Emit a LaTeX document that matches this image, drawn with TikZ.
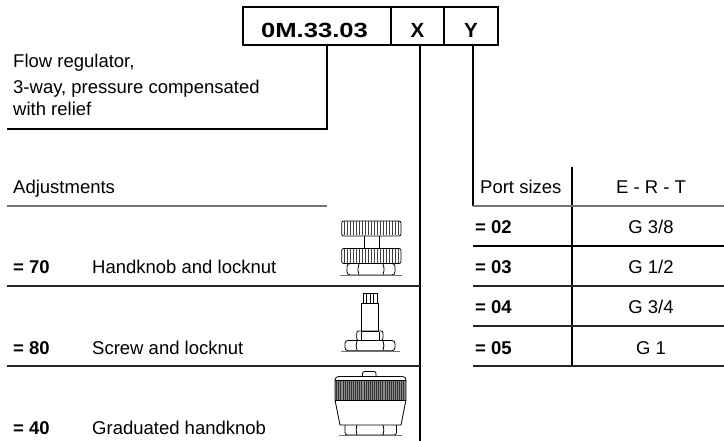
\documentclass[tikz,border=0pt]{standalone}
\usepackage{fontspec}
\setmainfont{Liberation Sans}
\usepackage{graphicx}
\usetikzlibrary{calc}
\tikzset{
  txt/.style={anchor=base west, inner sep=0pt, font=\fontsize{18.5}{22}\selectfont},
  ctxt/.style={anchor=base, inner sep=0pt, font=\fontsize{18.5}{22}\selectfont},
  btxt/.style={anchor=base west, inner sep=0pt, font=\fontsize{18.5}{22}\selectfont\bfseries},
  codecell/.style={draw, line width=2.2pt, minimum height=38pt, inner sep=0pt},
  ttl/.style={anchor=base, inner sep=0pt, font=\fontsize{20.5}{24}\selectfont\bfseries},
  blk/.style={line width=2pt, black},
  thn/.style={line width=1.4pt, black!85},
  gry/.style={line width=1.5pt, black!55},
  icon/.style={line width=0.8pt, black},
  knurl/.style={line width=0.6pt, black!75},
}
\begin{document}
\begin{tikzpicture}[x=1pt,y=-1pt]
\useasboundingbox[fill=white] (0,0) rectangle (724,441);

% code cells
\node[codecell, minimum width=148pt] (c1) at (317,26) {};
\node[codecell, minimum width=53pt] (c2) at (417.5,26) {};
\node[codecell, minimum width=54pt] (c3) at (471,26) {};
\node[ttl] (t1) at (314.5,37.5) {\scalebox{1.25}[1]{0M.33.03}};
\node[ttl] (t2) at (417.5,37.5) {X};
\node[ttl] (t3) at (471,37.5) {Y};

% connectors
\coordinate (k1) at (327,129);
\coordinate (l1) at (7,129);
\coordinate (xb) at (420,441);
\coordinate (yb) at (473,206);
\draw[blk] (c1.south -| k1) -- (k1) -- (l1);
\draw[blk] (c2.south -| xb) -- (xb);
\draw[blk] (c3.south -| yb) -- (yb);

% description
\node[txt] (d1) at (13,67.5) {Flow regulator,};
\node[txt] (d2) at (13,93.8) {3-way, pressure compensated};
\node[txt] (d3) at (13,116) {with relief};

% adjustments table
\node[txt] (adj) at (13,193.3) {Adjustments};
\draw[gry] (7,206) -- (327,206);
\node[btxt] (a70) at (13,274) {= 70};
\node[txt] (h70) at (92,274) {Handknob and locknut};
\draw[thn] (7,286) -- (420,286);
\node[btxt] (a80) at (13,354) {= 80};
\node[txt] (h80) at (92,354) {Screw and locknut};
\draw[thn] (7,366) -- (420,366);
\node[btxt] (a40) at (13,434) {= 40};
\node[txt] (h40) at (92,434) {Graduated handknob};

% port table
\node[txt] (ps) at (480,194) {Port sizes};
\node[ctxt] (ert) at (651,194) {E - R - T};
\draw[blk] (572,167) -- (572,366);
\draw[gry] (473,206) -- (724,206);
\draw[blk] (473,246) -- (724,246);
\draw[thn] (473,286) -- (724,286);
\draw[thn] (473,326) -- (724,326);
\draw[thn] (473,366) -- (724,366);
\node[btxt] (p02) at (475,234) {= 02};
\node[ctxt] (g02) at (651,234) {G 3/8};
\node[btxt] (p03) at (475,274) {= 03};
\node[ctxt] (g03) at (651,274) {G 1/2};
\node[btxt] (p04) at (475,314) {= 04};
\node[ctxt] (g04) at (651,314) {G 3/4};
\node[btxt] (p05) at (475,354) {= 05};
\node[ctxt] (g05) at (651,354) {G 1};

% icon: handknob and locknut
\foreach \x in {344,347,...,399} {\draw[knurl] (\x,221.5) -- (\x,235.5);}
\draw[icon, rounded corners=2] (341.7,221) rectangle (401,236);
\draw[icon] (364.5,236) -- (364.5,248.5) (379,236) -- (379,248.5);
\foreach \x in {344,347,...,399} {\draw[knurl] (\x,249) -- (\x,263);}
\draw[icon, rounded corners=2] (341.7,248.5) rectangle (401,263.5);
\draw[icon, rounded corners=3] (347,263.5) rectangle (395,275);
\draw[icon] (359,264) to[bend right=20] (359,274.5);
\draw[icon] (383,264) to[bend left=20] (383,274.5);
\draw[gry, line width=0.9pt] (340,275.3) -- (402,275.3);

% icon: screw and locknut
\draw[icon] (363,293.5) rectangle (377,303.5);
\draw[icon] (366.5,293.5) -- (366.5,303.5) (370,293.5) -- (370,303.5) (373.5,293.5) -- (373.5,303.5);
\draw[icon] (361.5,303.5) rectangle (378,331);
\draw[icon, rounded corners=2] (356.7,331) rectangle (383,340.5);
\draw[icon] (361,331.5) -- (361,340) (379,331.5) -- (379,340);
\draw[icon, rounded corners=3] (345,340.5) rectangle (395,350.7);
\draw[icon] (357,341) to[bend right=20] (357,350.2);
\draw[icon] (383,341) to[bend left=20] (383,350.2);
\draw[gry, line width=0.9pt] (341,351) -- (400,351);

% icon: graduated handknob
\draw[icon, rounded corners=2] (362.5,376.5) -- (362.5,371.5) -- (376,371.5) -- (376,376.5);
\fill[black!45] (335,380.5) rectangle (406,400);
\foreach \x in {336.5,338.6,...,405} {\draw[line width=0.6pt, black!80] (\x,380.5) -- (\x,400);}
\draw[icon, rounded corners=3.5] (335,400) -- (335,376.5) -- (406,376.5) -- (406,400);
\draw[icon] (335,380.5) -- (406,380.5) (335,400) -- (406,400);
\draw[icon] (335,400) -- (340,425) -- (401,425) -- (406,400);
\draw[icon, rounded corners=2.5] (345,425) -- (345,435) -- (396.5,435) -- (396.5,425);
\draw[icon] (357,425) to[bend right=15] (357,435);
\draw[icon] (383,425) to[bend left=15] (383,435);
\draw[gry, line width=0.9pt] (339,435.5) -- (402,435.5);
\end{tikzpicture}
\end{document}
